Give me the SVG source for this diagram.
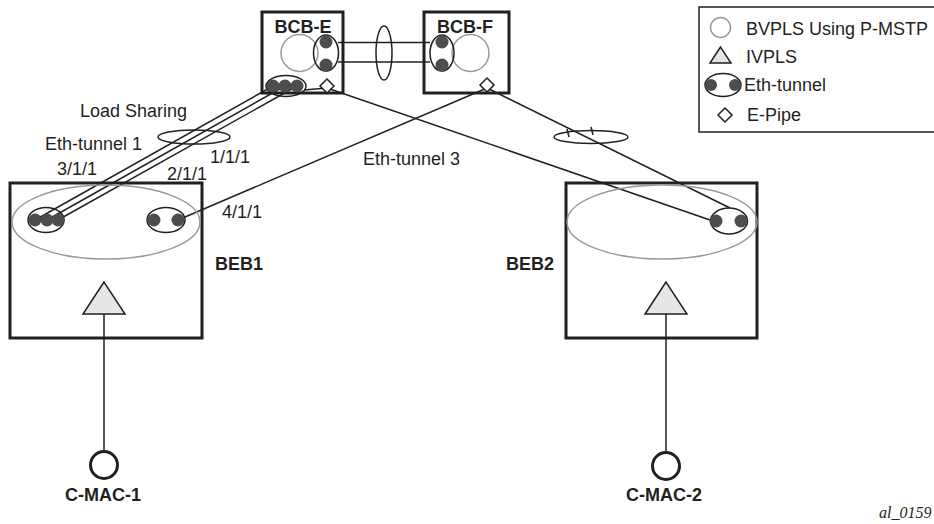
<svg xmlns="http://www.w3.org/2000/svg" width="934" height="524" viewBox="0 0 934 524">
<style>
text{font-family:"Liberation Sans",Arial,sans-serif;font-size:18px;fill:#231f20}
.b{font-weight:bold}
.box{fill:none;stroke:#231f20;stroke-width:3}
.ln{fill:none;stroke:#231f20;stroke-width:1.5}
.gr{fill:none;stroke:#999;stroke-width:1.5}
.dot{fill:#4d4d4d}
.tri{fill:#e6e6e6;stroke:#231f20;stroke-width:1.5}
.dia{fill:#fff;stroke:#231f20;stroke-width:1.5}
</style>
<g id="connectors">
<line class="ln" x1="35" y1="220" x2="273" y2="86"/>
<line class="ln" x1="47" y1="220" x2="285" y2="86"/>
<line class="ln" x1="58" y1="220" x2="297" y2="86"/>
<line class="ln" x1="178" y1="220" x2="487" y2="88"/>
<line class="ln" x1="327" y1="88" x2="710" y2="220"/>
<line class="ln" x1="487" y1="88" x2="730" y2="208"/>
<line class="ln" x1="304" y1="90" x2="327" y2="88"/>
<line class="ln" x1="338" y1="42.5" x2="430" y2="42.5"/>
<line class="ln" x1="338" y1="62" x2="430" y2="62"/>
<ellipse class="ln" cx="384" cy="53" rx="8" ry="27"/>
<ellipse class="ln" cx="194" cy="137" rx="36" ry="7"/>
<ellipse class="ln" cx="591" cy="137" rx="37" ry="6.5"/>
<line class="ln" x1="567" y1="129" x2="569" y2="137"/>
<line class="ln" x1="591" y1="127" x2="593" y2="135"/>
<line class="ln" x1="104" y1="314" x2="104" y2="452"/>
<line class="ln" x1="666" y1="314" x2="666" y2="452"/>
</g>
<g id="bcb-e">
<rect class="box" x="262" y="12" width="81" height="81"/>
<text class="b" x="303" y="33" text-anchor="middle">BCB-E</text>
<circle class="gr" cx="299.5" cy="53" r="18.5"/>
<ellipse class="ln" cx="326" cy="53" rx="12.5" ry="18"/>
<circle class="dot" cx="326" cy="42" r="6.5"/>
<circle class="dot" cx="326" cy="65" r="6.5"/>
<ellipse class="ln" cx="286" cy="86" rx="20" ry="10.5"/>
<circle class="dot" cx="273" cy="86" r="6.5"/>
<circle class="dot" cx="285" cy="86" r="6.5"/>
<circle class="dot" cx="297" cy="86" r="6.5"/>
<polygon class="dia" points="327,79 334,86 327,93 320,86"/>
</g>
<g id="bcb-f">
<rect class="box" x="424" y="12" width="85" height="81"/>
<text class="b" x="465" y="33" text-anchor="middle">BCB-F</text>
<circle class="gr" cx="470.5" cy="53" r="18.5"/>
<ellipse class="ln" cx="442" cy="53" rx="12" ry="18"/>
<circle class="dot" cx="442" cy="42" r="6.5"/>
<circle class="dot" cx="442" cy="65" r="6.5"/>
<polygon class="dia" points="487,78 494,85 487,92 480,85"/>
</g>
<g id="beb1">
<rect class="box" x="10" y="183" width="192" height="155"/>
<ellipse class="gr" cx="106" cy="222" rx="94" ry="37"/>
<ellipse class="ln" cx="46" cy="220" rx="18" ry="12.5"/>
<circle class="dot" cx="35" cy="220" r="6.5"/>
<circle class="dot" cx="47" cy="220" r="6.5"/>
<circle class="dot" cx="58" cy="220" r="6.5"/>
<ellipse class="ln" cx="166" cy="220" rx="19" ry="12.5"/>
<circle class="dot" cx="154" cy="220" r="6.5"/>
<circle class="dot" cx="178" cy="220" r="6.5"/>
<polygon class="tri" points="104,282 83,314 125,314"/>
<text class="b" x="215" y="270">BEB1</text>
</g>
<g id="beb2">
<rect class="box" x="566" y="183" width="191" height="155"/>
<ellipse class="gr" cx="662" cy="222" rx="95" ry="37"/>
<ellipse class="ln" cx="729" cy="221" rx="18.5" ry="13"/>
<circle class="dot" cx="716" cy="221" r="6.5"/>
<circle class="dot" cx="741" cy="221" r="6.5"/>
<polygon class="tri" points="666,282 645,314 687,314"/>
<text class="b" x="506" y="270">BEB2</text>
</g>
<g id="cmac1">
<circle cx="104" cy="465" r="13.5" fill="#fff" stroke="#231f20" stroke-width="3"/>
<text class="b" x="103" y="501" text-anchor="middle">C-MAC-1</text>
</g>
<g id="cmac2">
<circle cx="666" cy="466" r="13.5" fill="#fff" stroke="#231f20" stroke-width="3"/>
<text class="b" x="664" y="501" text-anchor="middle">C-MAC-2</text>
</g>
<g id="labels">
<text x="80" y="117">Load Sharing</text>
<text x="45" y="150">Eth-tunnel 1</text>
<text x="57" y="175">3/1/1</text>
<text x="167" y="180">2/1/1</text>
<text x="210" y="163">1/1/1</text>
<text x="222" y="218">4/1/1</text>
<text x="363" y="165">Eth-tunnel 3</text>
<text x="879" y="518" style="font-family:'Liberation Serif',serif;font-style:italic;font-size:16px">al_0159</text>
</g>
<g id="legend">
<rect x="699" y="7" width="245" height="125" fill="none" stroke="#231f20" stroke-width="1.5"/>
<circle class="gr" cx="720.5" cy="27.5" r="10"/>
<text x="746" y="35">BVPLS Using P-MSTP</text>
<polygon class="tri" points="720.5,47 710,63 731,63"/>
<text x="746" y="63">IVPLS</text>
<ellipse class="ln" cx="723" cy="85" rx="18" ry="11.5"/>
<circle class="dot" cx="711" cy="85" r="6"/>
<circle class="dot" cx="735" cy="85" r="6"/>
<text x="744" y="91">Eth-tunnel</text>
<polygon class="dia" points="725,108 732,115 725,122 718,115"/>
<text x="747" y="121">E-Pipe</text>
</g>
</svg>
